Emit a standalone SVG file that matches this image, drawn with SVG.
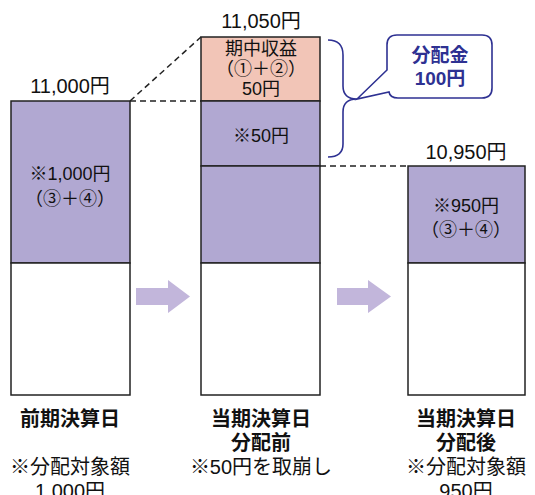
<svg xmlns="http://www.w3.org/2000/svg" width="535" height="495" viewBox="0 0 535 495">
<style>
text{font-family:"Liberation Sans","Noto Sans CJK JP",sans-serif;fill:#111;text-anchor:middle}
.v{font-size:20px}
.t{font-size:18px}
.b{font-size:20px;font-weight:bold}
.p{fill:#b1a8d2;stroke:#222;stroke-width:1.5}
.k{fill:#f2c5b7;stroke:#222;stroke-width:1.5}
.w{fill:#fff;stroke:#222;stroke-width:1.5}
.d{stroke:#222;stroke-width:1.5;stroke-dasharray:6,4;fill:none}
.a{fill:#c2b6db}
.bl{fill:none;stroke:#2e3192;stroke-width:1.6}
</style>
<g id="connectors">
<path class="d" d="M130,101 L201,37"/>
<path class="d" d="M130,101 H201"/>
<path class="d" d="M320,166 H408"/>
<polygon class="a" points="136,288 168,288 168,280 190,296.5 168,313 168,305 136,305"/>
<polygon class="a" points="337,288 368,288 368,280 391,296.5 368,313 368,305 337,305"/>
<path class="bl" d="M328,40 Q343,40 343,55 V86 Q343,99 357,99 Q343,99 343,112 V144 Q343,157 328,157"/>
</g>
<g id="prev">
<rect class="p" x="11" y="101" width="119" height="162"/>
<rect class="w" x="11" y="263" width="119" height="132"/>
<text class="v" x="70" y="93">11,000円</text>
<text class="t" x="70" y="180">※1,000円</text>
<text class="t" x="70" y="205">（③＋④）</text>
<text class="b" x="70" y="426">前期決算日</text>
<text class="v" x="70" y="474">※分配対象額</text>
<text class="v" x="70" y="498">1,000円</text>
</g>
<g id="before">
<rect class="k" x="201" y="37" width="119" height="64"/>
<rect class="p" x="201" y="101" width="119" height="65"/>
<rect class="p" x="201" y="166" width="119" height="97"/>
<rect class="w" x="201" y="263" width="119" height="132"/>
<text class="v" x="261" y="28">11,050円</text>
<text class="t" x="261" y="55">期中収益</text>
<text class="t" x="261" y="75">（①＋②）</text>
<text class="t" x="261" y="95">50円</text>
<text class="t" x="261" y="142">※50円</text>
<text class="b" x="261" y="426">当期決算日</text>
<text class="b" x="261" y="450">分配前</text>
<text class="v" x="261" y="474">※50円を取崩し</text>
</g>
<g id="after">
<rect class="p" x="408" y="166" width="117" height="97"/>
<rect class="w" x="408" y="263" width="117" height="132"/>
<text class="v" x="466" y="159">10,950円</text>
<text class="t" x="466" y="212">※950円</text>
<text class="t" x="466" y="236">（③＋④）</text>
<text class="b" x="466" y="426">当期決算日</text>
<text class="b" x="466" y="450">分配後</text>
<text class="v" x="466" y="474">※分配対象額</text>
<text class="v" x="466" y="498">950円</text>
</g>
<g id="callout">
<path d="M397,35 H482 Q492,35 492,45 V88 Q492,98 482,98 H398 Q390,98 389,92 L357,99 L387,70 V45 Q387,35 397,35 Z" fill="#fff" stroke="#2e3192" stroke-width="1.6"/>
<text class="b" x="440" y="62" style="fill:#2e3192;font-size:19px">分配金</text>
<text class="b" x="440" y="85" style="fill:#2e3192;font-size:19px">100円</text>
</g>
</svg>
